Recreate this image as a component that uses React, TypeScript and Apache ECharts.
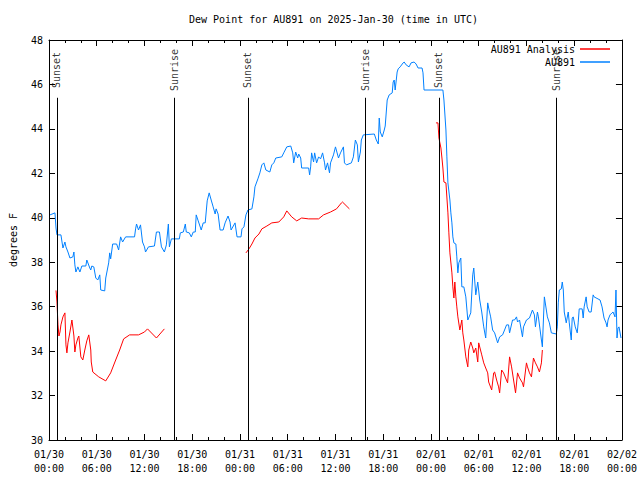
import React, { useEffect, useRef } from "react";
import * as echarts from "echarts";

// Hours since 2025-01-30 00:00 UTC
const xTickLabels = [
  "01/30\n00:00", "01/30\n06:00", "01/30\n12:00", "01/30\n18:00",
  "01/31\n00:00", "01/31\n06:00", "01/31\n12:00", "01/31\n18:00",
  "02/01\n00:00", "02/01\n06:00", "02/01\n12:00", "02/01\n18:00",
  "02/02\n00:00",
];

const eventHours = [1.0, 15.75, 25.0, 39.75, 49.0, 63.75];
const eventNames = ["Sunset", "Sunrise", "Sunset", "Sunrise", "Sunset", "Sunrise"];

const stationHours = [
  0.13, 0.75, 0.88, 1.0, 1.5, 1.75, 2.0, 2.13, 2.38, 2.63, 3.0, 3.13, 3.25, 3.38, 3.63, 3.88,
  4.13, 4.63, 4.75, 5.13, 5.25, 5.38, 5.63, 5.88, 6.13, 6.38, 6.5, 7.0, 7.13, 7.5, 7.63, 7.75,
  8.0, 8.5, 8.75, 9.0, 9.25, 9.63, 10.75, 10.88, 11.0, 11.25, 11.5, 11.75, 12.0, 12.13, 12.5,
  13.25, 13.5, 13.88, 14.13, 14.5, 14.75, 15.0, 15.13, 15.38, 15.75, 16.38, 16.5, 16.88, 17.13,
  17.25, 17.63, 17.88, 18.13, 18.38, 18.5, 18.75, 19.13, 19.38, 19.63, 19.88, 20.13, 20.38,
  20.63, 20.88, 21.0, 21.25, 21.5, 21.88, 22.13, 22.5, 22.75, 22.88, 23.38, 23.63, 24.13, 24.25,
  24.5, 24.75, 25.0, 25.5, 25.75, 25.88, 26.25, 26.5, 26.75, 27.0, 27.25, 27.75, 28.0, 28.25,
  28.5, 29.25, 29.5, 29.88, 30.38, 30.63, 30.75, 31.0, 31.25, 31.38, 31.63, 31.75, 32.63, 32.75,
  32.88, 33.0, 33.25, 33.38, 33.63, 33.88, 34.13, 34.38, 34.63, 34.75, 35.0, 35.25, 35.38, 35.75,
  36.0, 36.38, 36.63, 37.0, 37.13, 37.38, 38.0, 38.25, 38.5, 38.75, 38.88, 39.13, 39.25, 39.5,
  40.88, 41.13, 41.38, 41.5, 41.63, 41.88, 42.13, 42.25, 42.5, 42.75, 43.13, 43.25, 43.38, 43.5,
  43.75, 43.88, 44.13, 44.5, 44.63, 44.88, 45.25, 45.5, 45.88, 46.13, 46.38, 46.88, 47.0, 47.13,
  49.5, 49.63, 49.88, 50.0, 50.13, 50.38, 50.5, 50.63, 50.75, 50.88, 51.13, 51.25, 51.38, 51.5,
  51.75, 51.88, 52.13, 52.38, 52.63, 53.0, 53.25, 53.38, 53.63, 53.88, 54.13, 54.38, 54.63,
  54.88, 55.13, 55.25, 55.5, 55.75, 56.0, 56.38, 56.63, 57.0, 57.25, 57.5, 57.75, 57.88, 58.25,
  58.5, 58.75, 58.88, 59.13, 59.5, 59.63, 60.0, 60.38, 60.75, 61.0, 61.13, 61.38, 61.5, 61.88,
  62.0, 62.13, 62.25, 62.5, 62.63, 62.88, 63.13, 63.75, 63.88, 64.0, 64.13, 64.38, 64.5, 64.63,
  64.75, 65.0, 65.25, 65.38, 65.63, 65.75, 65.88, 66.13, 66.38, 66.5, 66.63, 67.0, 67.13, 67.25,
  67.5, 67.63, 67.88, 68.13, 68.38, 68.5, 69.25, 69.5, 69.75, 70.0, 70.13, 70.25, 70.5, 70.75,
  70.88, 71.13, 71.25, 71.38, 71.5, 71.63, 71.88,
];

const stationValues = [
  40.13, 40.22, 39.54, 39.23, 39.23, 38.64, 38.91, 38.69, 38.46, 38.19, 38.24, 38.46, 37.88, 37.56, 37.79, 37.56,
  37.83, 37.83, 38.1, 37.74, 37.65, 37.83, 37.79, 37.29, 37.2, 37.43, 36.75, 36.71, 37.29, 37.97, 38.42, 38.15,
  38.82, 38.82, 38.55, 39.14, 38.91, 39.14, 39.14, 39.5, 39.72, 39.45, 39.68, 38.91, 38.69, 38.46, 38.69,
  38.73, 39.36, 39.36, 38.69, 38.46, 38.78, 39.72, 38.69, 39.05, 39.05, 39.05, 39.32, 39.36, 39.72,
  39.36, 39.32, 39.14, 39.36, 39.36, 40.13, 39.86, 39.45, 39.77, 39.77, 40.76, 41.12, 40.8,
  40.49, 40.17, 40.4, 40.17, 39.45, 39.45, 39.77, 40.08, 39.81, 39.45, 39.77, 39.14, 39.14, 39.5,
  39.59, 40.13, 40.35, 40.4, 40.94, 41.39, 41.75, 42.02, 42.38, 42.47, 42.15, 42.06, 42.38, 42.47,
  42.69, 42.74, 42.92, 43.19, 43.23, 42.92, 42.47, 42.96, 42.69, 42.87, 42.69, 42.24, 42.24, 41.93,
  42.29, 42.92, 42.51, 42.92, 42.47, 42.74, 42.65, 42.92, 42.47, 42.15, 42.47, 42.02, 42.47, 42.83,
  43.19, 42.69, 42.92, 43.19, 42.47, 42.38, 42.47, 42.74, 43.5, 43.28, 42.51, 42.96, 43.5, 43.73,
  43.77, 43.5, 43.32, 44.49, 43.86, 43.64, 43.95, 44.13, 45.3, 45.53, 45.62, 46.11, 46.2, 45.75,
  46.56, 46.7, 46.79, 46.97, 47.01, 46.88, 46.79, 46.97, 47.01, 46.92, 46.74, 46.74, 46.52, 45.75,
  45.75, 45.3, 43.95, 42.74, 41.57, 40.8, 40.22, 39.77, 39.14, 38.87, 38.82, 38.24, 37.52, 37.97,
  38.19, 36.89, 36.89, 36.44, 35.4, 35.72, 37.43, 37.74, 36.53, 37.11, 36.3, 35.76, 35.09,
  34.59, 36.17, 35.94, 35.54, 34.95, 34.82, 34.37, 34.64, 34.73, 34.95, 35.18, 35.18, 34.82, 35.4,
  35.4, 35.54, 35.31, 35.4, 34.64, 35.09, 35.4, 35.49, 35.85, 35.63, 35.09, 35.76, 35.54, 34.5,
  34.19, 35.4, 36.44, 35.85, 35.54, 35.27, 34.82, 34.77, 35.09, 36.17, 36.75, 36.8, 37.11, 36.75,
  35.76, 35.27, 35.76, 35.27, 34.5, 35.49, 35.54, 35.09, 34.82, 35.27, 35.9, 35.9, 35.49, 35.99,
  36.44, 35.99, 35.76, 35.76, 36.53, 36.44, 36.3, 35.99, 35.49, 35.27, 35.09, 35.4, 35.63, 35.72,
  35.76, 35.54, 36.75, 34.59, 35.04, 35.09, 34.59,
];

const analysisHours1 = [
  0.88, 1.0, 1.13, 1.25, 1.38, 1.5, 1.75, 2.0, 2.13, 2.25, 2.38, 2.63, 2.88, 3.13, 3.25, 3.38,
  3.63, 3.75, 4.0, 4.25, 4.5, 4.75, 5.0, 5.25, 5.31, 5.5, 6.25, 7.13, 7.75, 8.38, 8.88, 9.38,
  10.13, 11.25, 12.0, 12.38, 13.5, 14.5,
];
const analysisValues1 = [
  36.73, 36.21, 35.18, 34.68, 34.86, 35.18, 35.54, 35.72, 34.28, 33.92, 34.37, 34.86, 35.4, 34.68, 33.96, 34.28,
  34.59, 34.68, 33.74, 33.6, 34.05, 34.46, 34.73, 34.05, 33.51, 33.06, 32.84, 32.66, 33.02, 33.6, 34.05, 34.55,
  34.73, 34.73, 34.86, 35.0, 34.59, 35.0,
];

const analysisHours2 = [
  24.75, 25.13, 25.5, 25.88, 26.38, 26.75, 27.38, 28.0, 28.88, 29.5, 29.88, 30.5, 31.13, 31.75,
  32.63, 33.88, 34.5, 35.38, 36.13, 36.75, 36.88, 37.75,
];
const analysisValues2 = [
  38.42, 38.6, 38.82, 39.09, 39.27, 39.5, 39.63, 39.77, 39.81, 40.04, 40.31, 40.04, 39.86, 39.99,
  39.95, 39.95, 40.13, 40.26, 40.4, 40.67, 40.71, 40.4,
];

const analysisHours3 = [
  48.63, 48.88, 49.0, 49.25, 49.38, 49.5, 49.63, 49.88, 50.13, 50.25, 50.38, 50.63, 50.75, 50.88,
  51.0, 51.13, 51.25, 51.38, 51.63, 51.88, 52.0, 52.13, 52.38, 52.63, 52.75, 53.0, 53.25, 53.38,
  53.63, 53.88, 54.0, 54.38, 54.63, 54.88, 55.13, 55.25, 55.63, 55.88, 56.0, 56.25, 56.5, 56.63,
  56.88, 57.13, 57.38, 57.63, 57.88, 58.13, 58.38, 58.63, 58.88, 59.13, 59.5, 59.63, 60.0, 60.13,
  60.38, 60.63, 60.88, 61.13, 61.38, 61.63, 61.88, 62.0,
];
const analysisValues3 = [
  44.27, 44.27, 43.59, 43.14, 42.69, 42.24, 41.61, 41.57, 40.22, 39.32, 38.42, 37.52, 36.89, 36.39,
  37.11, 36.44, 35.99, 35.54, 34.95, 35.4, 34.82, 34.5, 33.74, 33.29, 34.05, 34.41, 34.14, 33.92,
  34.14, 33.51, 34.37, 33.83, 33.47, 33.24, 33.02, 32.61, 32.25, 33.02, 33.06, 32.7, 32.39, 32.12,
  33.15, 33.02, 32.79, 32.57, 33.74, 33.29, 32.7, 32.12, 33.02, 32.79, 32.57, 32.39, 33.47, 33.29,
  33.02, 32.84, 33.69, 33.47, 33.29, 33.06, 33.47, 34.05,
];

const FONT = "'DejaVu Sans Mono', 'Liberation Mono', monospace";

function pairs(h: number[], v: number[]) {
  return h.map((x, i) => [x, v[i]]);
}

export default function App() {
  const ref = useRef<HTMLDivElement>(null);

  useEffect(() => {
    if (!ref.current) return;
    const chart = echarts.init(ref.current, undefined, { renderer: "svg" });

    const analysisData: any[] = [
      ...pairs(analysisHours1, analysisValues1),
      [19.5, "-"],
      ...pairs(analysisHours2, analysisValues2),
      [43.0, "-"],
      ...pairs(analysisHours3, analysisValues3),
    ];

    const tickCommon = { lineStyle: { color: "#000", width: 1 } };
    const xBase = {
      type: "value",
      min: 0,
      max: 72,
      interval: 6,
      splitLine: { show: false },
      axisLine: { show: true, onZero: false, lineStyle: { color: "#000", width: 1 } },
      axisTick: { show: true, inside: true, length: 6, ...tickCommon },
      minorTick: { show: true, splitNumber: 3, length: 3, ...tickCommon },
    };
    const yBase = {
      type: "value",
      min: 30,
      max: 48,
      interval: 2,
      splitLine: { show: false },
      axisLine: { show: true, onZero: false, lineStyle: { color: "#000", width: 1 } },
      axisTick: { show: true, inside: true, length: 6, ...tickCommon },
    };
    const legendText = { fontFamily: FONT, fontSize: 10, color: "#000" };

    const option: any = {
      animation: false,
      textStyle: { fontFamily: FONT, fontSize: 10, color: "#000" },
      title: {
        text: "Dew Point for AU891 on 2025-Jan-30 (time in UTC)",
        left: 189,
        top: 14,
        padding: 0,
        textStyle: { fontFamily: FONT, fontSize: 10, fontWeight: "normal", color: "#000" },
      },
      legend: [
        {
          data: ["AU891 Analysis"],
          right: 30,
          top: 44,
          align: "right",
          orient: "vertical",
          icon: "rect",
          itemWidth: 30,
          itemHeight: 1.5,
          padding: 0,
          selectedMode: false,
          textStyle: legendText,
        },
        {
          data: ["AU891"],
          right: 30,
          top: 57,
          align: "right",
          orient: "vertical",
          icon: "rect",
          itemWidth: 30,
          itemHeight: 1.5,
          padding: 0,
          selectedMode: false,
          textStyle: legendText,
        },
      ],
      grid: { left: 46, right: 18, top: 40, bottom: 40 },
      xAxis: [
        {
          ...xBase,
          position: "bottom",
          axisLabel: {
            show: true,
            margin: 7,
            lineHeight: 14,
            fontFamily: FONT,
            fontSize: 10,
            color: "#000",
            formatter: (v: number) => xTickLabels[Math.round(v / 6)] ?? "",
          },
        },
        { ...xBase, position: "top", axisLabel: { show: false } },
      ],
      yAxis: [
        {
          ...yBase,
          position: "left",
          name: "degrees F",
          nameLocation: "middle",
          nameGap: 31,
          nameRotate: 90,
          nameTextStyle: { fontFamily: FONT, fontSize: 10, color: "#000" },
          axisLabel: { show: true, margin: 6, fontFamily: FONT, fontSize: 10, color: "#000" },
        },
        { ...yBase, position: "right", axisLabel: { show: false } },
      ],
      series: [
        {
          name: "events",
          type: "scatter",
          xAxisIndex: 0,
          yAxisIndex: 0,
          symbolSize: 0,
          silent: true,
          data: eventHours.map((h, i) => ({ value: [h, 46.65], name: eventNames[i] })),
          label: {
            show: true,
            position: "inside",
            rotate: 90,
            formatter: "{b}",
            fontFamily: FONT,
            fontSize: 10,
            color: "#000",
          },
          markLine: {
            silent: true,
            symbol: ["none", "none"],
            label: { show: false },
            lineStyle: { color: "#000", width: 1, type: "solid" },
            emphasis: { disabled: true },
            data: eventHours.map((h) => [{ coord: [h, 45.4] }, { coord: [h, 30] }]),
          },
        },
        {
          name: "AU891 Analysis",
          type: "line",
          xAxisIndex: 0,
          yAxisIndex: 0,
          showSymbol: false,
          symbol: "none",
          connectNulls: false,
          lineStyle: { color: "#ff0000", width: 1 },
          itemStyle: { color: "#ff0000" },
          data: analysisData,
        },
        {
          name: "AU891",
          type: "line",
          xAxisIndex: 0,
          yAxisIndex: 0,
          showSymbol: false,
          symbol: "none",
          lineStyle: { color: "#0080ff", width: 1 },
          itemStyle: { color: "#0080ff" },
          data: pairs(stationHours, stationValues),
        },
      ],
    };

    chart.setOption(option);
    return () => chart.dispose();
  }, []);

  return (
    <div
      ref={ref}
      style={{ position: "absolute", left: 0, top: 0, width: 640, height: 480, background: "#fff" }}
    />
  );
}
